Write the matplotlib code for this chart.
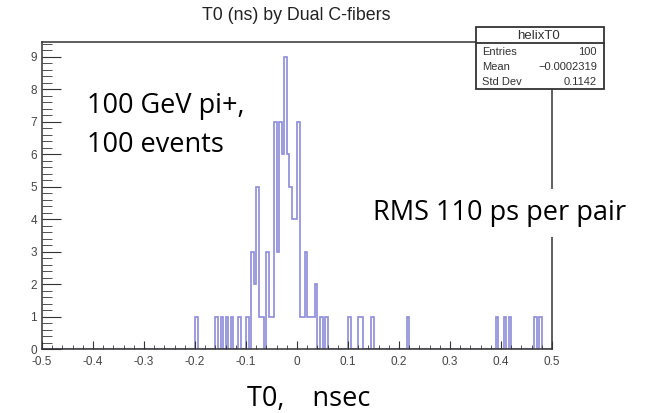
import numpy as np
import matplotlib.pyplot as plt
from matplotlib.ticker import MultipleLocator
from matplotlib.patches import Rectangle

# histogram bins (left edge, ns) that hold entries; bin width 0.005
bin_left = [-0.200, -0.160, -0.150, -0.140, -0.130, -0.115, -0.100,
            -0.090, -0.085, -0.080, -0.075, -0.070,
            -0.060, -0.055, -0.050, -0.045, -0.040, -0.035, -0.030,
            -0.025, -0.020, -0.015, -0.010, -0.005, 0.000,
            0.005, 0.010, 0.015, 0.020, 0.025, 0.030, 0.035,
            0.045, 0.055,
            0.100, 0.120, 0.125, 0.145, 0.215,
            0.390, 0.405, 0.415, 0.465, 0.475]
bin_count = [1, 1, 1, 1, 1, 1, 1,
             3, 2, 5, 1, 1,
             3, 1, 1, 7, 3, 7, 6,
             9, 6, 5, 4, 4, 7,
             1, 1, 3, 1, 1, 1, 2,
             1, 1,
             1, 1, 1, 1, 1,
             1, 1, 1, 1, 1]

n_bins = 200
x_lo, x_hi = -0.5, 0.5

stat_labels = ['Entries', 'Mean', 'Std Dev']
stat_values = ['100', '\u22120.0002319', '0.1142']

W, H = 656, 413
fig = plt.figure(figsize=(W / 100, H / 100), dpi=100)
plt.rcParams['font.family'] = ['Liberation Sans', 'DejaVu Sans']
slide_font = ['Open Sans', 'DejaVu Sans']
slide_size = 19.5

# axes box in pixels: x -0.5 at 42, 0.5 at 552; y 0 at 349, top at 42
ax = fig.add_axes([42 / W, (H - 349) / H, 510 / W, 307 / H])

edges = np.linspace(x_lo, x_hi, n_bins + 1)
counts = np.zeros(n_bins)
for x, c in zip(bin_left, bin_count):
    counts[int(round((x - x_lo) / (edges[1] - edges[0])))] += c

ax.stairs(counts, edges, color='#8c8cd9', linewidth=1.2)

ax.set_xlim(x_lo, x_hi)
ax.set_ylim(0, 9.45)

for s in ax.spines.values():
    s.set_color('#333333')
    s.set_linewidth(1.1)

ax.xaxis.set_major_locator(MultipleLocator(0.1))
ax.xaxis.set_minor_locator(MultipleLocator(0.02))
ax.yaxis.set_major_locator(MultipleLocator(1))
ax.yaxis.set_minor_locator(MultipleLocator(0.2))
ax.tick_params(which='both', direction='in', colors='#333333', labelcolor='#444444',
               labelsize=8.5, top=False, right=False)
ax.tick_params(axis='x', which='major', length=6, pad=5)
ax.tick_params(axis='x', which='minor', length=3)
ax.tick_params(axis='y', which='major', length=14, pad=3.5)
ax.tick_params(axis='y', which='minor', length=7)
ax.set_xticklabels([f'{v:g}' if abs(v) > 1e-9 else '0' for v in ax.get_xticks()])

# title
fig.text(296 / W, 1 - 15 / H, 'T0 (ns) by Dual C-fibers', ha='center', va='center',
         fontsize=12.8, color='#222222')

# stat box (drawn over the top-right of the frame)
bx0, bx1, by0, by1 = 476, 604, 27, 89
fig.patches.append(Rectangle((bx0 / W, 1 - by1 / H), (bx1 - bx0) / W, (by1 - by0) / H,
                             transform=fig.transFigure, facecolor='white',
                             edgecolor='#333333', linewidth=1.3, zorder=5))
fig.lines.append(plt.Line2D([bx0 / W, bx1 / W], [1 - 42.5 / H, 1 - 42.5 / H],
                            transform=fig.transFigure, color='#333333', linewidth=1.3, zorder=6))
fig.text(538 / W, 1 - 36 / H, 'helixT0', ha='center', va='center', fontsize=9.5,
         color='#333333', zorder=7)
for i, (lab, val) in enumerate(zip(stat_labels, stat_values)):
    yy = 1 - (52 + 15 * i) / H
    fig.text(482 / W, yy, lab, ha='left', va='center', fontsize=8, color='#333333', zorder=7)
    fig.text(597 / W, yy, val, ha='right', va='center', fontsize=8, color='#333333', zorder=7)

# slide annotations
fig.text(87 / W, 1 - 113 / H, '100 GeV pi+,', ha='left', va='baseline', fontsize=slide_size,
         family=slide_font, color='black')
fig.text(87 / W, 1 - 152 / H, '100 events', ha='left', va='baseline', fontsize=slide_size,
         family=slide_font, color='black')
fig.text(373 / W, 1 - 213 / H, 'RMS 110 ps per pair', ha='left', va='center', fontsize=slide_size,
         family=slide_font, color='black', zorder=8,
         bbox=dict(facecolor='white', edgecolor='none', pad=7))
fig.text(247 / W, 1 - 406 / H, 'T0,    nsec', ha='left', va='baseline', fontsize=slide_size,
         family=slide_font, color='black')

fig.savefig('out.png', dpi=100)
